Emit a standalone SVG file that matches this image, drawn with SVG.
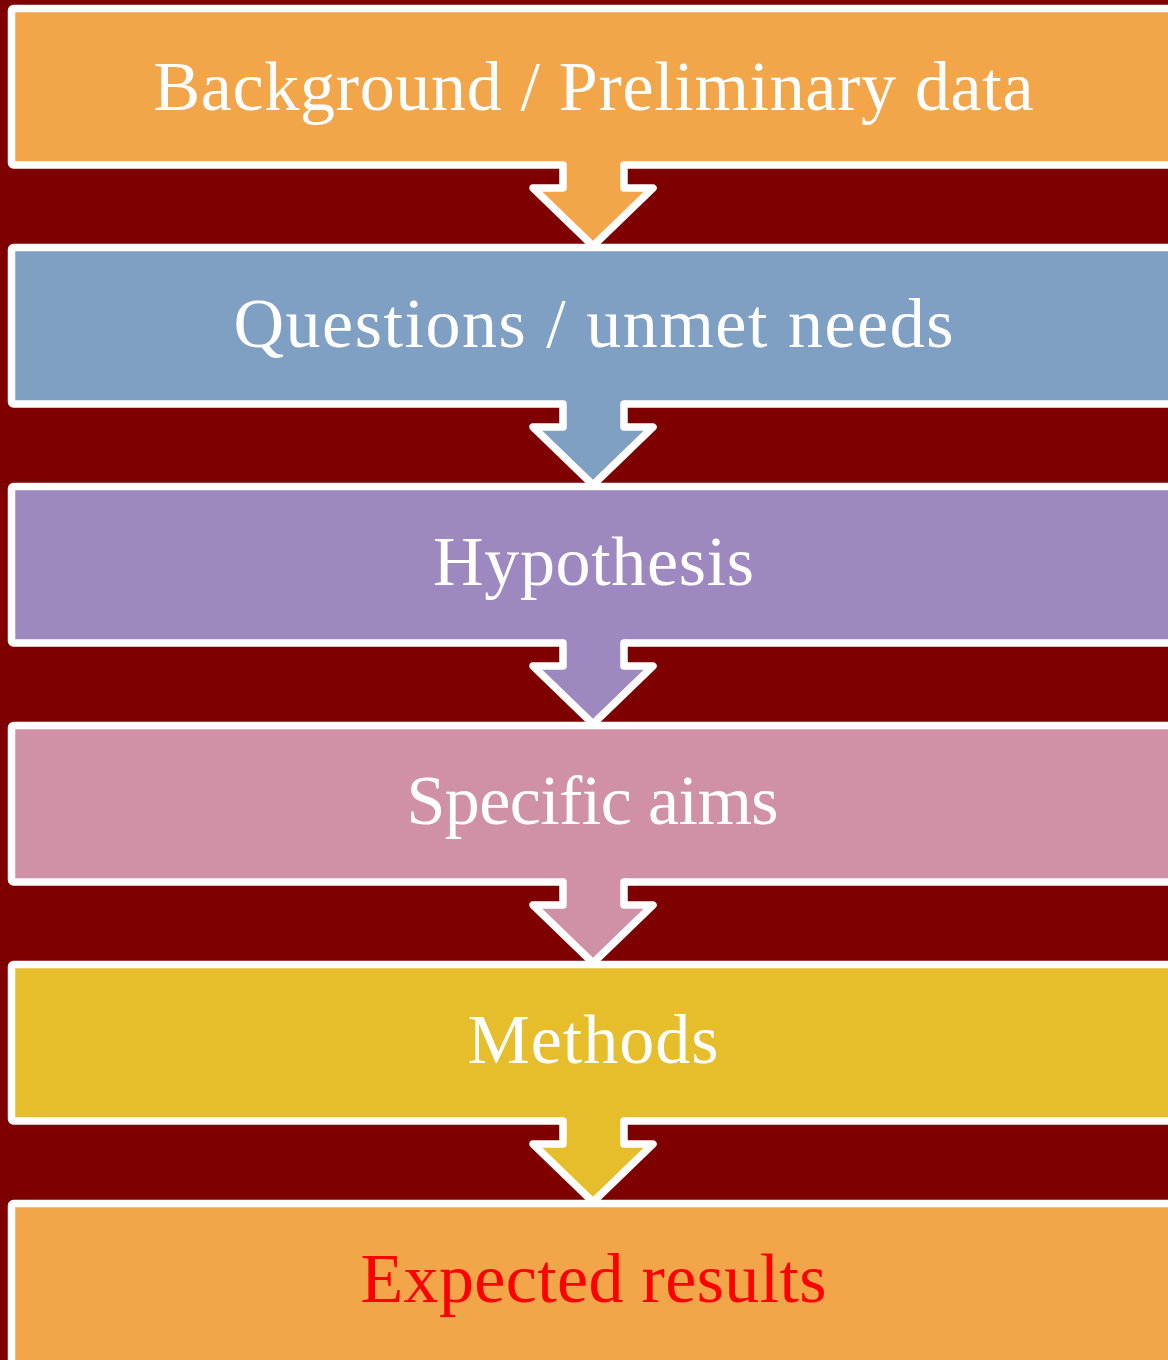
<svg xmlns="http://www.w3.org/2000/svg" width="1168" height="1360" viewBox="0 0 1168 1360">
<style>
.box{stroke:#fff;stroke-width:7.5;stroke-linejoin:round}
.st{fill:none;stroke:#fff;stroke-width:7.5;stroke-linejoin:round;stroke-linecap:round}
.t{font-family:"Liberation Serif","DejaVu Serif",serif;font-size:70px;fill:#fff;text-anchor:middle}
.c1{fill:#F3A54A}.c2{fill:#7F9FC3}.c3{fill:#9D88C0}.c4{fill:#D091A6}.c5{fill:#E6BD2A}
</style>
<rect width="1168" height="1360" fill="#7F0000"/>
<g id="node1"><rect class="box c1" x="11.5" y="8.5" width="1180" height="156.5" rx="2"/><text class="t" x="593.5" y="110" textLength="880" lengthAdjust="spacing">Background / Preliminary data</text></g>
<g id="node2"><rect class="box c2" x="11.5" y="247.5" width="1180" height="156.5" rx="2"/><text class="t" x="593.5" y="347" textLength="720" lengthAdjust="spacing">Questions / unmet needs</text></g>
<g id="node3"><rect class="box c3" x="11.5" y="486.5" width="1180" height="156.5" rx="2"/><text class="t" x="593.5" y="585" textLength="321" lengthAdjust="spacing">Hypothesis</text></g>
<g id="node4"><rect class="box c4" x="11.5" y="725.5" width="1180" height="156.5" rx="2"/><text class="t" x="592.5" y="824" textLength="372" lengthAdjust="spacing">Specific aims</text></g>
<g id="node5"><rect class="box c5" x="11.5" y="964.5" width="1180" height="156.5" rx="2"/><text class="t" x="593" y="1063" textLength="251" lengthAdjust="spacing">Methods</text></g>
<g id="node6"><rect class="box c1" x="11.5" y="1203.5" width="1180" height="170" rx="2"/><text class="t" x="593.5" y="1302" textLength="466" lengthAdjust="spacing" style="fill:#FF0000">Expected results</text></g>
<g id="connectors">
<g><path class="c1" d="M563,158V188H533L593,246L653,188H624V158Z"/><path class="st" d="M563,165V188H533L593,246L653,188H624V165"/></g>
<g transform="translate(0,239)"><path class="c2" d="M563,158V188H533L593,246L653,188H624V158Z"/><path class="st" d="M563,165V188H533L593,246L653,188H624V165"/></g>
<g transform="translate(0,478)"><path class="c3" d="M563,158V188H533L593,246L653,188H624V158Z"/><path class="st" d="M563,165V188H533L593,246L653,188H624V165"/></g>
<g transform="translate(0,717)"><path class="c4" d="M563,158V188H533L593,246L653,188H624V158Z"/><path class="st" d="M563,165V188H533L593,246L653,188H624V165"/></g>
<g transform="translate(0,956)"><path class="c5" d="M563,158V188H533L593,246L653,188H624V158Z"/><path class="st" d="M563,165V188H533L593,246L653,188H624V165"/></g>
</g>
</svg>
